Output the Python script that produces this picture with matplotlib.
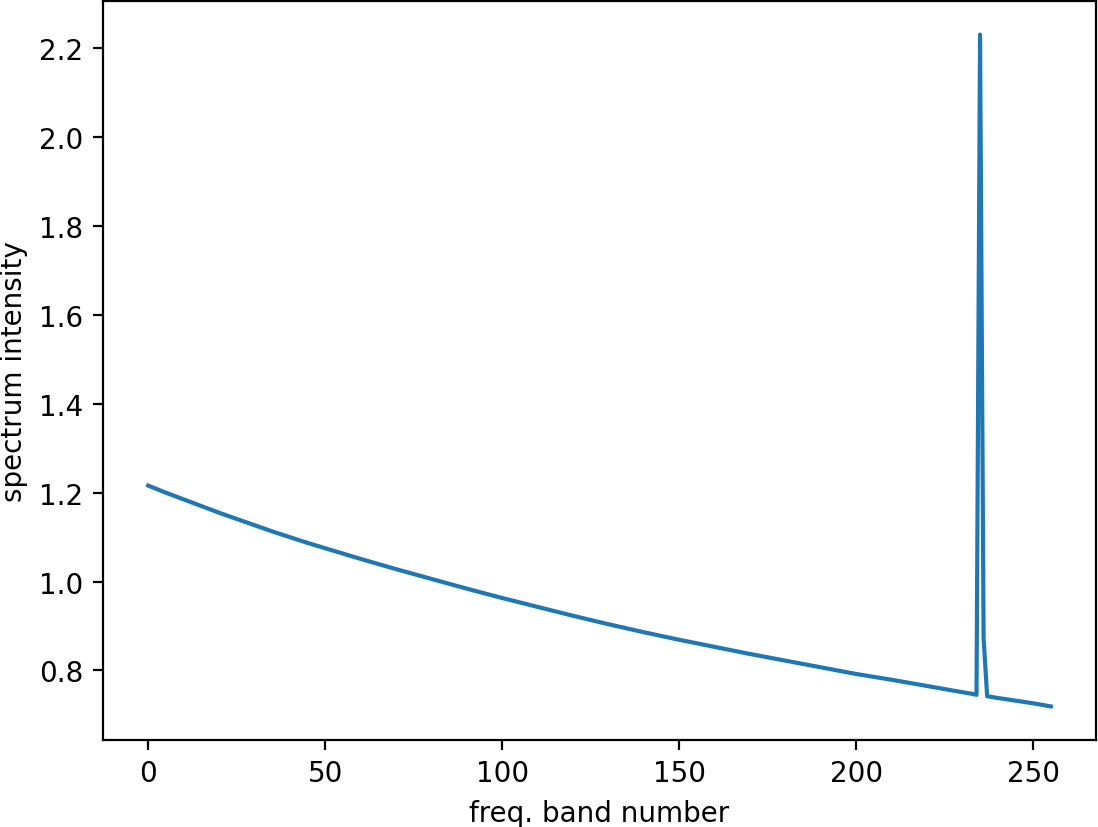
import matplotlib
matplotlib.use("Agg")
import matplotlib.pyplot as plt

band = [0, 5, 10, 15, 20, 25, 30, 35, 40, 45, 50, 60, 70, 80, 90, 100,
        110, 120, 130, 140, 150, 160, 170, 180, 190, 200,
        210, 220, 230, 233, 234, 235, 236, 237, 240, 250, 255]
intensity = [1.216, 1.200, 1.185, 1.170, 1.155, 1.141, 1.127, 1.113, 1.100, 1.087, 1.075,
             1.051, 1.028, 1.006, 0.984, 0.963,
             0.943, 0.923, 0.904, 0.886, 0.869, 0.853, 0.837, 0.822, 0.807, 0.792,
             0.779, 0.765, 0.751, 0.747, 0.745, 2.231, 0.872, 0.742, 0.738, 0.726, 0.719]

DPI = 200
fig = plt.figure(figsize=(1098 / DPI, 828 / DPI), dpi=DPI)
ax = fig.add_axes([103 / 1098, 1 - 741 / 828, (1096 - 103) / 1098, (741 - 2) / 828])
ax.plot(band, intensity, color="#1f77b4", linewidth=1.5)
ax.set_xlabel("freq. band number")
ax.set_ylabel("spectrum intensity")
fig.savefig("out.png", dpi=DPI)
